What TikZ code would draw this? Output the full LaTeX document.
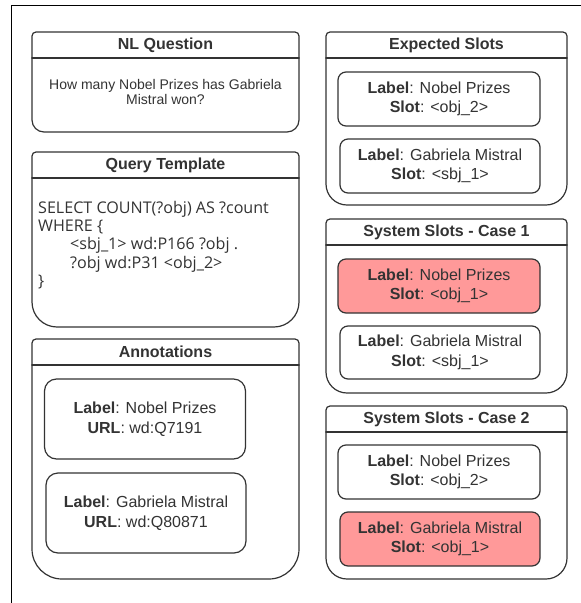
\documentclass[tikz,border=0pt]{standalone}
\usepackage{fontspec}
\setmainfont{Liberation Sans}
\newfontfamily\codefont{Open Sans}
\definecolor{ink}{HTML}{333333}
\definecolor{wrong}{HTML}{FF9999}

% container: x1, y1, x2, y2, header bottom, bottom corner radius
\newcommand\lanebox[6]{%
  \draw[lane, rounded corners=4pt] (#1,#5) -- (#1,#2) -- (#3,#2) -- (#3,#5);
  \draw[lane, rounded corners=#6pt] (#3,#5) -- (#3,#4) -- (#1,#4) -- (#1,#5);
  \draw[lane] (#1,#5) -- (#3,#5);}

\begin{document}
\begin{tikzpicture}[x=1pt,y=-1pt,
  lane/.style={draw=ink, line width=1.2pt, line cap=round},
  title/.style={font=\fontsize{16}{19}\selectfont\bfseries, text=ink, inner sep=0pt},
  entry/.style={draw=ink, line width=1.2pt, fill=white, align=center,
    font=\fontsize{16}{19.5}\selectfont, text=ink, inner sep=0pt},
  slotbox/.style={entry, rounded corners=8pt, minimum height=54pt},
  annbox/.style={entry, rounded corners=12pt, minimum height=80pt, minimum width=201pt},
  frameline/.style={draw=black, line width=1pt}]
\useasboundingbox (0,0) rectangle (581,603);

% outer frame
\coordinate (ftl) at (11,5);
\coordinate (ftr) at (581,5);
\coordinate (fbl) at (11,603);
\draw[frameline] (ftr) -- (ftl) -- (fbl);

% left column
\lanebox{32}{32}{299}{132}{58}{12}
\node[title] (nlq) at (165.5,45) {NL Question};
\node[font=\fontsize{14}{14.5}\selectfont, align=center, text=ink, inner sep=0pt] (nlqtext) at (165.5,92)
  {How many Nobel Prizes has Gabriela\\Mistral won?};

\lanebox{32}{152}{299}{327}{178}{25}
\node[title] (qt) at (165.5,165) {Query Template};
\node[font=\codefont\fontsize{16.1}{18.35}\selectfont, align=left, text=ink, inner sep=0pt, anchor=west] (qttext) at (38,245)
  {SELECT COUNT(?obj) AS ?count\\
   WHERE \{\\
   \hspace*{32pt}<sbj\_1> wd:P166 ?obj .\\
   \hspace*{32pt}?obj wd:P31 <obj\_2>\\
   \}};

\lanebox{32}{339}{299}{579}{365}{30}
\node[title] (ann) at (165.5,352) {Annotations};
\node[annbox] (ann1) at (145,419) {\textbf{Label}: Nobel Prizes\\\textbf{URL}: wd:Q7191};
\node[annbox, minimum width=200pt] (ann2) at (146,513) {\textbf{Label}: Gabriela Mistral\\\textbf{URL}: wd:Q80871};

% right column
\lanebox{326}{32}{567}{205}{58}{21}
\node[title] (exp) at (446.5,45) {Expected Slots};
\node[slotbox, minimum width=202pt] (exp1) at (439,99) {\textbf{Label}: Nobel Prizes\\\textbf{Slot}: <obj\_2>};
\node[slotbox, minimum width=200pt] (exp2) at (440,166) {\textbf{Label}: Gabriela Mistral\\\textbf{Slot}: <sbj\_1>};

\lanebox{326}{219}{567}{393}{245}{21}
\node[title] (cs1) at (446.5,232) {System Slots - Case 1};
\node[slotbox, minimum width=202pt, fill=wrong] (cs1a) at (439,286) {\textbf{Label}: Nobel Prizes\\\textbf{Slot}: <obj\_1>};
\node[slotbox, minimum width=200pt, minimum height=53pt] (cs1b) at (440,352.5) {\textbf{Label}: Gabriela Mistral\\\textbf{Slot}: <sbj\_1>};

\lanebox{326}{406}{567}{579}{432}{21}
\node[title] (cs2) at (446.5,419) {System Slots - Case 2};
\node[slotbox, minimum width=202pt] (cs2a) at (439,472) {\textbf{Label}: Nobel Prizes\\\textbf{Slot}: <obj\_2>};
\node[slotbox, minimum width=200pt, fill=wrong] (cs2b) at (440,539) {\textbf{Label}: Gabriela Mistral\\\textbf{Slot}: <obj\_1>};
\end{tikzpicture}
\end{document}
